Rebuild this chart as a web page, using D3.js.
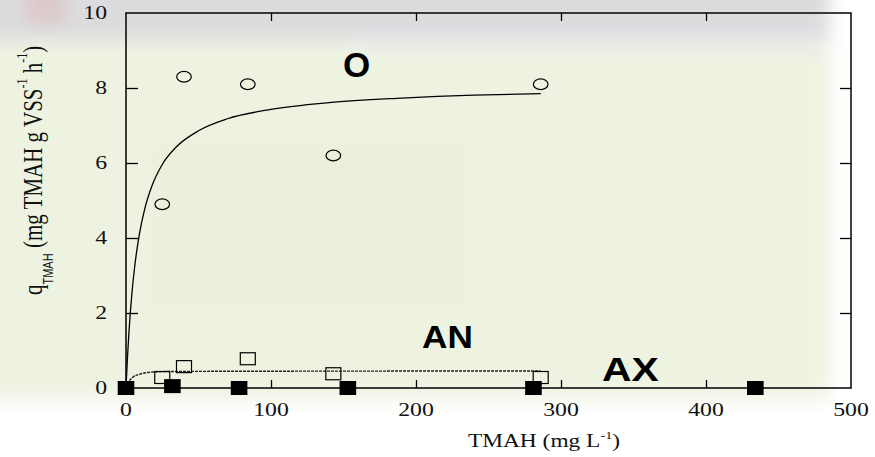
<!DOCTYPE html>
<html>
<head>
<meta charset="utf-8">
<script src="https://cdn.jsdelivr.net/npm/d3@7/dist/d3.min.js"></script>
<style>
  html, body { margin: 0; padding: 0; background: #fff; }
  svg { display: block; }
</style>
</head>
<body>
<svg id="chart" width="875" height="457"></svg>
<script>
// Specific TMAH degradation rate vs. TMAH concentration
// O = aerobic, AN = anaerobic, AX = anoxic

const xTicks = [0, 100, 200, 300, 400, 500];
const yTicks = [0, 2, 4, 6, 8, 10];

// measured points [TMAH mg/L, q]
const oxicPts    = [[25, 4.9], [40, 8.3], [84, 8.1], [143, 6.2], [286, 8.1]];
const anaerPts   = [[25, 0.28], [40, 0.57], [84, 0.78], [143, 0.38], [286, 0.28]];
const anoxicPts  = [[0, 0], [32, 0.05], [78, 0], [153, 0], [281, 0], [434, 0]];

// fitted kinetic curves
const oxicFit  = [[0, 0], [1, 0.8], [2, 1.47], [4, 2.49], [6, 3.24], [9, 4.05], [13, 4.79],
                  [18, 5.4], [25, 5.96], [35, 6.44], [50, 6.86], [70, 7.18], [100, 7.43],
                  [140, 7.61], [190, 7.73], [240, 7.81], [286, 7.85]];
const anaerFit = [[0, 0], [2, 0.17], [4.8, 0.29], [9.7, 0.37], [16.5, 0.42], [30, 0.44],
                  [60, 0.445], [150, 0.45], [286, 0.455]];

const svg = d3.select("#chart");
const W = 875, H = 457;

// soft photographic backdrop
const defs = svg.append("defs");
defs.append("filter").attr("id", "soft")
  .attr("filterUnits", "userSpaceOnUse")
  .attr("x", -100).attr("y", -100).attr("width", W + 200).attr("height", H + 200)
  .append("feGaussianBlur").attr("stdDeviation", 9);

const bg = svg.append("g");
bg.append("rect").attr("width", W).attr("height", H).attr("fill", "#ffffff");
const blur = bg.append("g").attr("filter", "url(#soft)");
blur.append("rect").attr("x", -60).attr("y", 40).attr("width", 890).attr("height", 360).attr("fill", "#eef3e1");
blur.append("rect").attr("x", -60).attr("y", -60).attr("width", 890).attr("height", 100).attr("fill", "#dcdcdf");
blur.append("rect").attr("x", 360).attr("y", 36).attr("width", 460).attr("height", 12).attr("fill", "#e9e9ec");
blur.append("rect").attr("x", 25).attr("y", -20).attr("width", 40).attr("height", 45).attr("fill", "#dcc9c9");
blur.append("rect").attr("x", 150).attr("y", 140).attr("width", 320).attr("height", 170).attr("fill", "#ebf0dd");
blur.append("rect").attr("x", -60).attr("y", 400).attr("width", 1000).attr("height", 120).attr("fill", "#ffffff");
blur.append("rect").attr("x", 836).attr("y", -60).attr("width", 120).attr("height", 600).attr("fill", "#ffffff");

const x = d3.scaleLinear().domain([0, 500]).range([126, 851]);
const y = d3.scaleLinear().domain([0, 10]).range([388, 13]);

// frame
svg.append("rect")
  .attr("x", x(0)).attr("y", y(10))
  .attr("width", x(500) - x(0)).attr("height", y(0) - y(10))
  .attr("fill", "none").attr("stroke", "#000").attr("stroke-width", 1.5);

// inward ticks on all four sides
function ticks(axis, tx, ty) {
  const g = svg.append("g").attr("transform", `translate(${tx},${ty})`).call(axis);
  g.select(".domain").remove();
  g.selectAll("text").remove();
  g.selectAll("line").attr("stroke", "#000").attr("stroke-width", 1.3);
}
ticks(d3.axisLeft(y).tickValues(yTicks.slice(1, -1)).tickSize(-12).tickSizeOuter(0), x(0), 0);
ticks(d3.axisRight(y).tickValues(yTicks.slice(1, -1)).tickSize(-11).tickSizeOuter(0), x(500), 0);
ticks(d3.axisTop(x).tickValues(xTicks.slice(1, -1)).tickSize(-8).tickSizeOuter(0), 0, y(10));
ticks(d3.axisBottom(x).tickValues(xTicks.slice(1, -1)).tickSize(-8).tickSizeOuter(0), 0, y(0));

const serif = "'Liberation Serif', 'Times New Roman', serif";
const sans = "'Liberation Sans', Arial, sans-serif";
const SX = 1.25;

// tick labels
svg.append("g").selectAll("text").data(yTicks).join("text")
  .attr("transform", d => `translate(107,${y(d)}) scale(${SX},1)`)
  .attr("text-anchor", "end").attr("dy", "0.34em")
  .attr("font-family", serif).attr("font-size", 19).attr("fill", "#111")
  .text(d => d);
svg.append("g").selectAll("text").data(xTicks).join("text")
  .attr("transform", d => `translate(${x(d)},416) scale(${SX},1)`)
  .attr("text-anchor", "middle")
  .attr("font-family", serif).attr("font-size", 19).attr("fill", "#111")
  .text(d => d);

// axis titles
const xt = svg.append("text")
  .attr("transform", `translate(544,447) scale(1.3,1)`)
  .attr("text-anchor", "middle")
  .attr("font-family", serif).attr("font-size", 18).attr("fill", "#111");
xt.append("tspan").text("TMAH (mg L");
xt.append("tspan").attr("font-size", 11).attr("dy", -8).text("-1");
xt.append("tspan").attr("dy", 8).text(")");

const yt = svg.append("text")
  .attr("transform", `translate(41.5,295) scale(1.3,1) rotate(-90)`)
  .attr("font-family", serif).attr("font-size", 21).attr("fill", "#111");
yt.append("tspan").text("q");
yt.append("tspan").attr("font-family", sans).attr("font-size", 11).attr("dy", 9).text("TMAH");
yt.append("tspan").attr("dy", -9).text(" (mg TMAH g VSS");
yt.append("tspan").attr("font-size", 12).attr("dy", -11).text("-1");
yt.append("tspan").attr("dy", 11).text(" h");
yt.append("tspan").attr("font-size", 12).attr("dy", -11).text("-1");
yt.append("tspan").attr("dy", 11).text(")");

// fit curves
const line = d3.line().x(d => x(d[0])).y(d => y(d[1])).curve(d3.curveMonotoneX);
svg.append("path").datum(oxicFit).attr("d", line)
  .attr("fill", "none").attr("stroke", "#000").attr("stroke-width", 1.3);
svg.append("path").datum(anaerFit).attr("d", line)
  .attr("fill", "none").attr("stroke", "#222").attr("stroke-width", 1.4)
  .attr("stroke-dasharray", "3,1");

// markers
svg.append("g").selectAll("ellipse").data(oxicPts).join("ellipse")
  .attr("cx", d => x(d[0])).attr("cy", d => y(d[1]))
  .attr("rx", 7.3).attr("ry", 5.4)
  .attr("fill", "none").attr("stroke", "#000").attr("stroke-width", 1.2);
svg.append("g").selectAll("rect").data(anaerPts).join("rect")
  .attr("x", d => x(d[0]) - 7.5).attr("y", d => y(d[1]) - 6)
  .attr("width", 15).attr("height", 12)
  .attr("fill", "none").attr("stroke", "#000").attr("stroke-width", 1.2);
svg.append("g").selectAll("rect").data(anoxicPts).join("rect")
  .attr("x", d => x(d[0]) - 8.3).attr("y", d => y(d[1]) - 7)
  .attr("width", 16.6).attr("height", 14)
  .attr("fill", "#000");

// condition labels
const labels = [
  { t: "O",  tx: 343, ty: 77, fs: 35, sx: 1.0 },
  { t: "AN", tx: 422, ty: 348, fs: 32, sx: 1.1 },
  { t: "AX", tx: 602, ty: 381, fs: 34, sx: 1.2 }
];
svg.append("g").selectAll("text").data(labels).join("text")
  .attr("transform", d => `translate(${d.tx},${d.ty}) scale(${d.sx},1)`)
  .attr("font-family", sans).attr("font-weight", "bold")
  .attr("font-size", d => d.fs).attr("fill", "#000")
  .text(d => d.t);
</script>
</body>
</html>
